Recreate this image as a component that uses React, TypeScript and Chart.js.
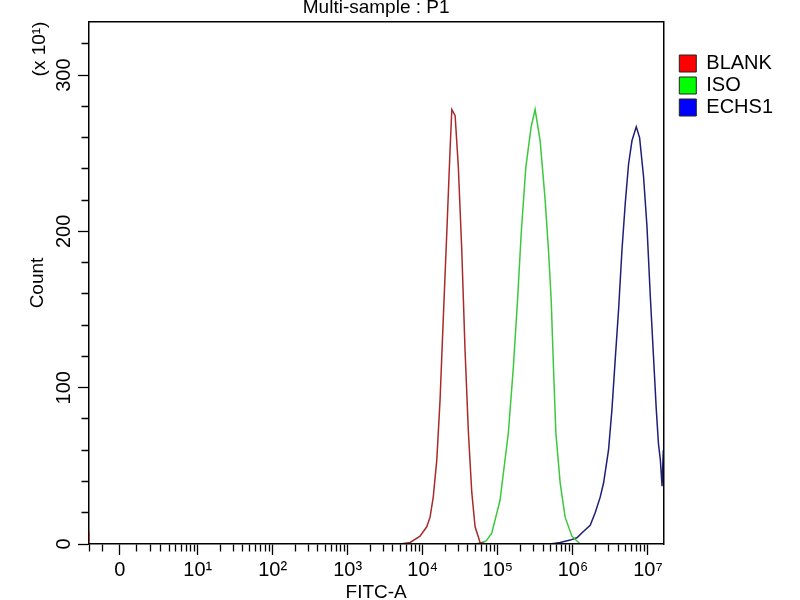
import { useEffect, useRef } from "react"
import { Chart, LinearScale, registerables } from "chart.js"

Chart.register(...registerables)

// FITC-A values (fluorescence) and counts (x10)
const blankFitc = [-2, -2, 0, 5000, 6800, 9200, 11300, 12500, 13800, 15400, 17000, 18800, 20900, 23100, 24400, 27000, 29800, 33100, 36600, 40600, 45000, 49800, 58000, 71000, 79000]
const blankCount = [8, 0, null, 0, 1, 5, 11, 17, 30, 54, 92, 145, 199, 252, 278, 274, 241, 188, 124, 71, 33, 11, 1, 0, 0]

const isoFitc = [50000, 61000, 70000, 83000, 107000, 138000, 161000, 183000, 205000, 236000, 278000, 314000, 366000, 427000, 473000, 514000, 551000, 593000, 677000, 789000, 970000, 1250000]
const isoCount = [0, 1, 2, 7, 28, 71, 113, 156, 199, 241, 267, 278, 258, 220, 188, 156, 113, 71, 39, 17, 5, 0]

const echsFitc = [498000, 677000, 920000, 1130000, 1380000, 1700000, 1980000, 2310000, 2560000, 2980000, 3310000, 3660000, 4060000, 4500000, 4980000, 5510000, 6120000, 6980000, 7730000, 8730000, 9700000, 10700000, 11900000, 12900000, 13800000, 14600000, 15400000, 16000000]
const echsCount = [0, 1, 2.5, 4, 8, 12, 20, 30, 39, 60, 86, 118, 150, 188, 218, 243, 258, 267, 260, 235, 203, 160, 118, 86, 64, 54, 37, 60]

const seriesNames = ["BLANK", "ISO", "ECHS1"]

// axis ticks
const fitcMajor = [0, 10, 100, 1000, 10000, 100000, 1000000, 10000000]
const fitcLabels = ["0", "10¹", "10²", "10³", "10⁴", "10⁵", "10⁶", "10⁷"]
const fitcMinor = [-2, -1, 1, 2, 3, 4, 5, 6, 7, 8, 9].concat(
  [1, 2, 3, 4, 5, 6].flatMap((k) => [2, 3, 4, 5, 6, 7, 8, 9].map((m) => m * 10 ** k))
)
const countTicks = [0, 20, 40, 60, 80, 100, 120, 140, 160, 180, 200, 220, 240, 260, 280, 300, 320]
const countMajor = [0, 100, 200, 300]

// biexponential display: linear around zero, logarithmic above ~10
const BIEX_W = 1.84
const biex = (v: number) => Math.asinh(v / BIEX_W) / Math.LN10
const biexInv = (t: number) => BIEX_W * Math.sinh(t * Math.LN10)

class BiexScale extends LinearScale {
  static id = "biex"
  static defaults = {}
  tMin = 0
  tMax = 1

  configure() {
    super.configure()
    this.tMin = biex(this.min)
    this.tMax = biex(this.max)
  }

  getPixelForValue(value: number) {
    if (value === null || value === undefined) return NaN
    return this.getPixelForDecimal((biex(value) - this.tMin) / (this.tMax - this.tMin))
  }

  getValueForPixel(pixel: number) {
    return biexInv(this.tMin + this.getDecimalForPixel(pixel) * (this.tMax - this.tMin))
  }
}
Chart.register(BiexScale)

const FONT = "'Liberation Sans', 'DejaVu Sans', Arial, sans-serif"

// "(x 10¹)" multiplier written above the y axis title
const scaleNote = {
  id: "scaleNote",
  afterDraw(chart: any) {
    const { ctx, chartArea } = chart
    const y = chart.scales.y
    ctx.save()
    ctx.translate(y.left + 13.4, chartArea.top + 27)
    ctx.rotate(-Math.PI / 2)
    ctx.font = `19px ${FONT}`
    ctx.fillStyle = "#000"
    ctx.textAlign = "center"
    ctx.textBaseline = "middle"
    ctx.fillText("(x 10¹)", 0, 0)
    ctx.restore()
  },
}

const toPoints = (xs: number[], ys: (number | null)[]) => xs.map((x, i) => ({ x, y: ys[i] }))

export default function App() {
  const canvasRef = useRef<HTMLCanvasElement>(null)
  const chartRef = useRef<Chart | null>(null)

  useEffect(() => {
    if (!canvasRef.current) return
    if (chartRef.current) chartRef.current.destroy()

    Chart.defaults.font.family = FONT
    Chart.defaults.color = "#000"

    const frame = { display: true, color: "#000", width: 1.5 }

    chartRef.current = new Chart(canvasRef.current, {
      type: "line",
      data: {
        datasets: [
          { label: seriesNames[0], data: toPoints(blankFitc, blankCount), borderColor: "#a82a2a", backgroundColor: "#ff0000" },
          { label: seriesNames[1], data: toPoints(isoFitc, isoCount), borderColor: "#3cc83c", backgroundColor: "#00ff00" },
          { label: seriesNames[2], data: toPoints(echsFitc, echsCount), borderColor: "#1e1e78", backgroundColor: "#0000ff" },
        ],
      },
      options: {
        animation: false,
        responsive: true,
        maintainAspectRatio: false,
        events: [],
        layout: { padding: { left: 26.6, right: 17, top: 0, bottom: 0 } },
        elements: {
          point: { radius: 0 },
          line: { borderWidth: 1.5, tension: 0, fill: false },
        },
        plugins: {
          tooltip: { enabled: false },
          title: {
            display: true,
            text: "Multi-sample : P1",
            fullSize: false,
            color: "#000",
            font: { size: 19, weight: "normal" },
            padding: { top: -3.6, bottom: 2.8 },
          },
          legend: {
            position: "right",
            align: "start",
            fullSize: false,
            title: { display: true, text: " ", font: { size: 10 }, padding: { top: 17.5, bottom: 0 } },
            labels: {
              boxWidth: 17,
              boxHeight: 17,
              padding: 2,
              color: "#000",
              font: { size: 20 },
              generateLabels: (chart: Chart) =>
                Chart.defaults.plugins.legend.labels
                  .generateLabels(chart)
                  .map((item) => ({ ...item, strokeStyle: "#222", lineWidth: 1 })),
            },
          },
        },
        scales: {
          x: {
            type: "biex" as any,
            position: "bottom",
            min: -2,
            max: 1.6e7,
            bounds: "data",
            afterBuildTicks: (axis: any) => {
              axis.ticks = fitcMinor.concat(fitcMajor).sort((a, b) => a - b).map((value) => ({ value }))
            },
            ticks: {
              autoSkip: false,
              minRotation: 0,
              maxRotation: 0,
              padding: 3,
              font: { size: 20 },
              callback: (v: any) => {
                const i = fitcMajor.indexOf(v)
                return i >= 0 ? fitcLabels[i] : ""
              },
            },
            grid: {
              display: true,
              drawOnChartArea: false,
              tickLength: 11,
              tickWidth: 1.3,
              tickColor: "#000",
              tickBorderDash: (ctx: any) => (ctx.tick && fitcMajor.includes(ctx.tick.value) ? [] : [7, 40]),
            },
            border: { ...frame, z: 1 },
            title: { display: true, text: "FITC-A", color: "#000", font: { size: 19 }, padding: { top: -3.4, bottom: -4.4 } },
          },
          y: {
            type: "linear",
            position: "left",
            min: 0,
            max: 334,
            afterBuildTicks: (axis: any) => {
              axis.ticks = countTicks.map((value) => ({ value }))
            },
            ticks: {
              autoSkip: false,
              minRotation: 90,
              maxRotation: 90,
              crossAlign: "center",
              padding: -2.7,
              font: { size: 20 },
              callback: (v: any) => (countMajor.includes(v) ? String(v) : ""),
            },
            grid: {
              display: true,
              drawOnChartArea: false,
              tickLength: 11,
              tickWidth: 1.3,
              tickColor: "#000",
              tickBorderDash: (ctx: any) => (ctx.tick && countMajor.includes(ctx.tick.value) ? [] : [0, 3.5, 7, 40]),
            },
            border: frame,
            title: { display: true, text: "Count", color: "#000", font: { size: 19 }, padding: { top: 0, bottom: 10 } },
          },
          x2: {
            type: "linear",
            position: "top",
            display: true,
            grid: { display: false, drawTicks: false },
            ticks: { display: false },
            border: frame,
          },
          y2: {
            type: "linear",
            position: "right",
            display: true,
            grid: { display: false, drawTicks: false },
            ticks: { display: false },
            border: frame,
            afterFit: (axis: any) => {
              axis.width = 14
            },
          },
        },
      },
      plugins: [scaleNote],
    } as any)

    return () => {
      if (chartRef.current) {
        chartRef.current.destroy()
        chartRef.current = null
      }
    }
  }, [])

  return (
    <div style={{ position: "absolute", left: 0, top: 0, width: 800, height: 600, background: "#fff" }}>
      <canvas ref={canvasRef} />
    </div>
  )
}
